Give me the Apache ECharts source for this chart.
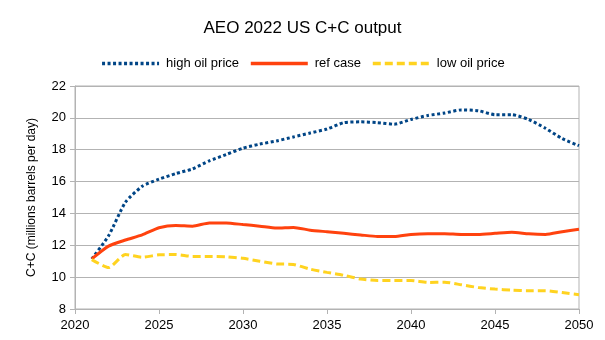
<!DOCTYPE html>
<html><head><meta charset="utf-8">
<script src="https://cdn.jsdelivr.net/npm/echarts@6/dist/echarts.min.js"></script>
<style>html,body{margin:0;padding:0;background:#fff}#c{width:605px;height:340px}</style>
</head><body><div id="c"></div>
<script>
var years = [2021,2022,2023,2024,2025,2026,2027,2028,2029,2030,2031,2032,2033,2034,2035,2036,2037,2038,2039,2040,2041,2042,2043,2044,2045,2046,2047,2048,2049,2050];
var highOil = [11.15,12.6,14.7,15.7,16.15,16.5,16.8,17.3,17.7,18.1,18.35,18.55,18.8,19.05,19.3,19.7,19.75,19.7,19.6,19.9,20.15,20.3,20.5,20.45,20.2,20.2,19.9,19.35,18.7,18.25];
var refCase = [11.15,11.95,12.33,12.65,13.1,13.25,13.2,13.4,13.4,13.3,13.2,13.08,13.12,12.95,12.85,12.75,12.65,12.55,12.55,12.68,12.73,12.73,12.68,12.68,12.75,12.82,12.72,12.68,12.85,13.0];
var lowOil = [11.1,10.6,11.42,11.25,11.4,11.42,11.3,11.3,11.28,11.18,11.0,10.83,10.8,10.5,10.3,10.12,9.88,9.79,9.79,9.79,9.67,9.68,9.52,9.35,9.25,9.18,9.15,9.15,9.03,8.9];
var seriesNames = ['high oil price','ref case','low oil price'];
function pairs(v){return years.map(function(y,i){return [y,v[i]];});}
var chart = echarts.init(document.getElementById('c'));
var font = 'Liberation Sans, Arial, sans-serif';
chart.setOption({
  animation:false,
  backgroundColor:'#fff',
  title:{text:'AEO 2022 US C+C output',left:'center',top:15,textStyle:{fontFamily:font,fontSize:17,fontWeight:'normal',color:'#000'}},
  legend:{top:52,left:'center',itemWidth:57,itemHeight:12,itemGap:10,
    itemStyle:{opacity:0},
    lineStyle:{width:3.5},
    textStyle:{fontFamily:font,fontSize:13,color:'#000',padding:[0,0,0,2]},
    data:seriesNames},
  grid:{left:75,right:26,top:86,bottom:31,show:true,borderColor:'#b3b3b3',borderWidth:1},
  xAxis:{type:'value',min:2020,max:2050,interval:5,
    axisLine:{lineStyle:{color:'#b3b3b3'}},axisTick:{show:true,length:5,lineStyle:{color:'#b3b3b3'}},
    splitLine:{show:false},
    axisLabel:{fontFamily:font,fontSize:13,color:'#000',margin:10,formatter:function(v){return String(v);}}},
  yAxis:{type:'value',min:8,max:22,interval:2,
    name:'C+C (millions barrels per day)',nameLocation:'middle',nameGap:37,
    nameTextStyle:{fontFamily:font,fontSize:12,color:'#000'},
    axisLine:{show:true,lineStyle:{color:'#b3b3b3'}},axisTick:{show:true,length:5,lineStyle:{color:'#b3b3b3'}},
    splitLine:{lineStyle:{color:'#b3b3b3'}},
    axisLabel:{fontFamily:font,fontSize:13,color:'#000',margin:9}},
  series:[
    {name:seriesNames[0],type:'line',data:pairs(highOil),symbol:'none',smooth:0.2,color:'#004586',
      lineStyle:{width:3,type:[3,2.5],color:'#004586'}},
    {name:seriesNames[1],type:'line',data:pairs(refCase),symbol:'none',smooth:0.2,color:'#ff420e',
      lineStyle:{width:3,color:'#ff420e'}},
    {name:seriesNames[2],type:'line',data:pairs(lowOil),symbol:'none',smooth:0.2,color:'#ffd320',
      lineStyle:{width:3,type:[8,4],color:'#ffd320'}}
  ]
});
</script></body></html>
